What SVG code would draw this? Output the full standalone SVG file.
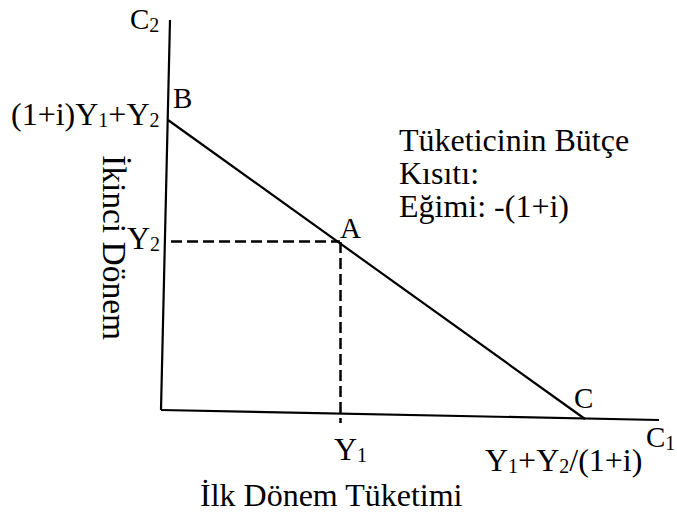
<svg xmlns="http://www.w3.org/2000/svg" width="677" height="518" viewBox="0 0 677 518">
<style>
text{font-family:"Liberation Serif","Times New Roman",serif;fill:#000}
.t{font-size:32px}
.p{font-size:29px}
.s{font-size:20px}
.ln{stroke:#000;stroke-width:2.2;fill:none}
.dash{stroke:#000;stroke-width:2.5;fill:none;stroke-dasharray:11 5}
</style>
<rect width="677" height="518" fill="#fff"/>
<g id="connectors">
<line class="ln" x1="170" y1="20" x2="161" y2="410"/>
<line class="ln" x1="161" y1="410" x2="659" y2="420"/>
<line class="ln" x1="168" y1="120" x2="585" y2="419"/>
<line class="dash" x1="171" y1="241.5" x2="340" y2="241.5"/>
<line class="dash" x1="340.5" y1="242" x2="340.5" y2="423"/>
</g>
<g id="axis-c2"><text class="p" x="130" y="29">C<tspan class="s" dy="3">2</tspan></text></g>
<g id="axis-c1"><text class="p" x="646" y="447">C<tspan class="s" dy="3">1</tspan></text></g>
<g id="point-b"><text class="p" x="173" y="108">B</text>
<text class="t" x="11" y="125">(1+i)Y<tspan class="s" dy="2">1</tspan><tspan dy="-2">+Y</tspan><tspan class="s" dy="2">2</tspan></text></g>
<g id="point-a"><text class="p" x="340" y="238">A</text></g>
<g id="point-c"><text class="p" x="574" y="408">C</text>
<text class="t" x="485" y="471">Y<tspan class="s" dy="2">1</tspan><tspan dy="-2">+Y</tspan><tspan class="s" dy="2">2</tspan><tspan dy="-2">/(1+i)</tspan></text></g>
<g id="label-y2"><text class="t" x="127" y="249">Y<tspan class="s" dy="2">2</tspan></text></g>
<g id="label-y1"><text class="t" x="334" y="460">Y<tspan class="s" dy="2">1</tspan></text></g>
<g id="budget-label"><text class="t" x="399" y="151">Tüketicinin Bütçe</text>
<text class="t" x="399" y="184">Kısıtı:</text>
<text class="t" x="399" y="217">Eğimi: -(1+i)</text></g>
<g id="y-axis-title"><text class="t" style="font-size:33.5px" transform="translate(103,155) rotate(90)">İkinci Dönem</text></g>
<g id="x-axis-title"><text class="t" x="200" y="506">İlk Dönem Tüketimi</text></g>
</svg>
